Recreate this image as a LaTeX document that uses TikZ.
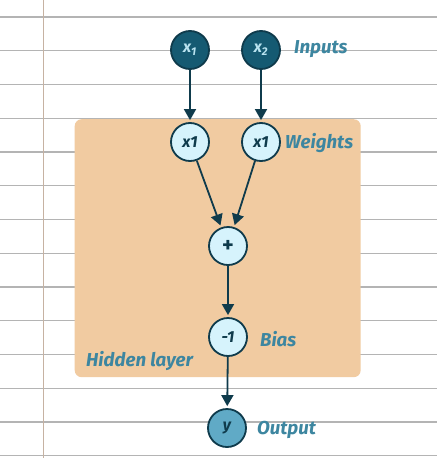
\documentclass[tikz,border=0pt]{standalone}
\usepackage{fontspec}
\setmainfont{Fira Sans}
\usetikzlibrary{arrows.meta}
\definecolor{boxfill}{HTML}{F1CBA1}
\definecolor{gridh}{HTML}{B4B4B4}
\definecolor{gridv}{HTML}{C6B2A2}
\definecolor{darkline}{HTML}{0F3B4C}
\definecolor{infill}{HTML}{155A72}
\definecolor{wfill}{HTML}{D6F3FC}
\definecolor{outfill}{HTML}{60AAC6}
\definecolor{labtext}{HTML}{3D86A0}
\definecolor{intext}{HTML}{B9E3F0}
\tikzset{
  neuron/.style={circle, draw=darkline, line width=1.8pt, minimum size=38pt, inner sep=0pt,
    font=\fontsize{16}{16}\selectfont\bfseries\itshape},
  inneuron/.style={neuron, fill=infill, text=intext},
  wneuron/.style={neuron, fill=wfill, text=darkline},
  outneuron/.style={neuron, fill=outfill, text=darkline},
  lab/.style={anchor=west, text=labtext, inner sep=0pt, font=\fontsize{18.7}{18.7}\selectfont\bfseries\itshape},
  conn/.style={draw=darkline, line width=1.8pt, -{Triangle[length=11pt,width=12pt]}, shorten >=2pt},
  gridline/.style={line width=1.2pt}
}
\begin{document}
\begin{tikzpicture}[x=1pt,y=-1pt]
\path[use as bounding box, fill=white] (0,0) rectangle (437,458);
% ruled paper
\foreach \k in {0,...,13}{
  \draw[gridline, draw=gridh] (0,{17+33.75*\k}) -- (437,{17+33.75*\k});
}
\draw[line width=1pt, draw=gridv] (43.5,0) -- (43.5,458);
% hidden layer box
\node[fill=boxfill, rounded corners=7pt, minimum width=286pt, minimum height=258pt, inner sep=0pt, anchor=north west] (box) at (74.5,119) {};
% nodes
\node[inneuron] (x1) at (190,50) {x\textsubscript{1}};
\node[inneuron] (x2) at (261,50) {x\textsubscript{2}};
\node[wneuron] (w1) at (190,142) {x1};
\node[wneuron] (w2) at (261,142) {x1};
\node[wneuron, font=\fontsize{22}{22}\selectfont\bfseries] (sum) at (228,246) {+};
\node[wneuron] (bias) at (228,337) {-1};
\node[outneuron] (y) at (227,428) {y};
% labels
\node[lab] (linputs) at (294,49) {Inputs};
\node[lab] (lweights) at (285,143) {Weights};
\node[lab] (lbias) at (260,339) {Bias};
\node[lab] (lhidden) at (86,361) {Hidden layer};
\node[lab] (loutput) at (257,430) {Output};
% connectors
\draw[conn] (x1) -- (w1);
\draw[conn] (x2) -- (w2);
\draw[conn] (w1) -- (sum);
\draw[conn] (w2) -- (sum);
\draw[conn] (sum) -- (bias);
\draw[conn] (bias) -- (y);
\end{tikzpicture}
\end{document}
